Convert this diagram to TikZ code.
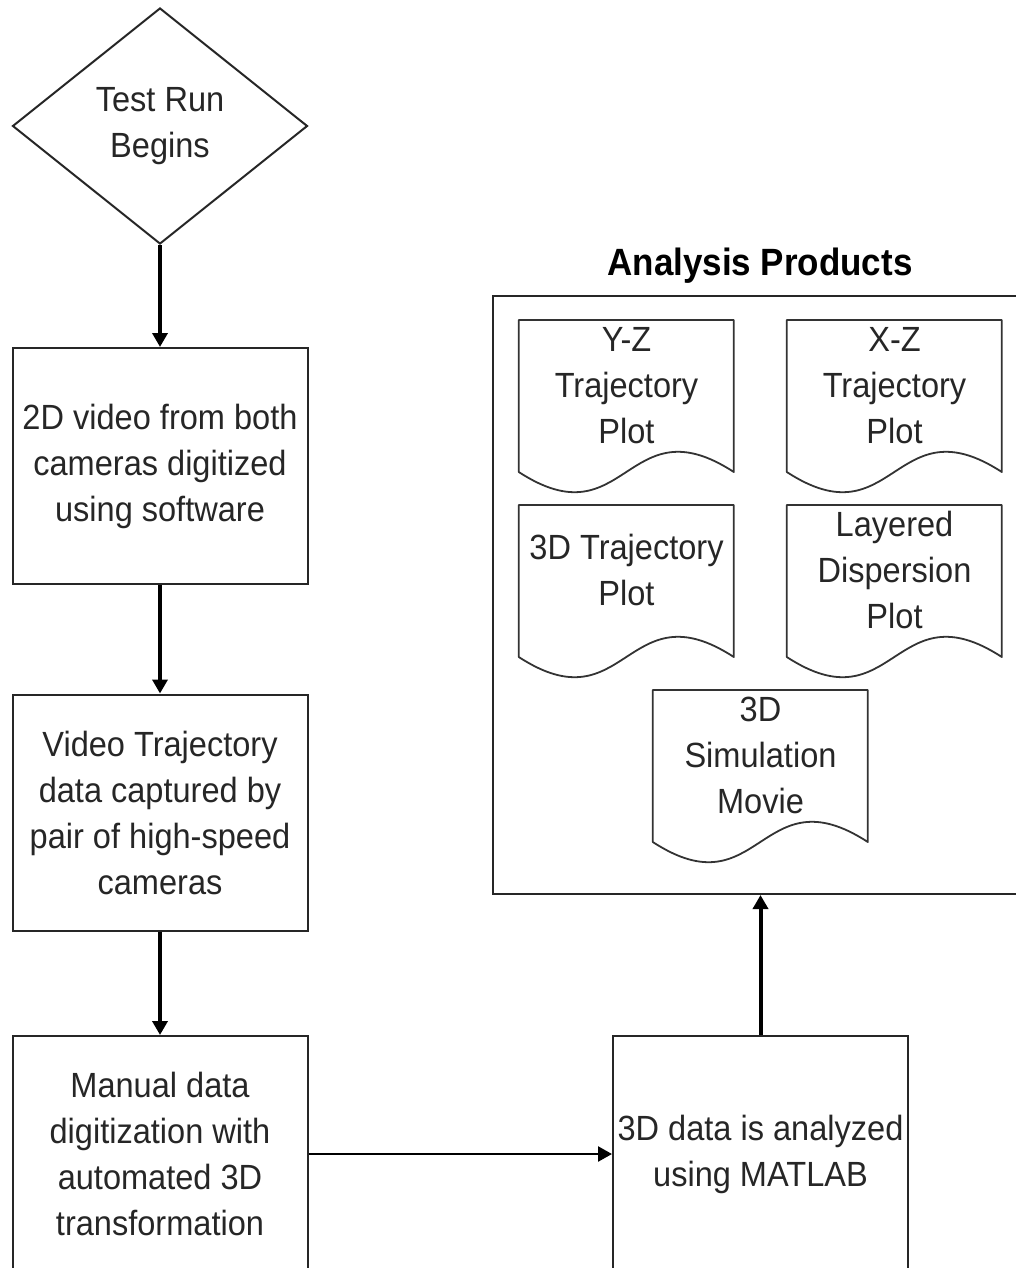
\documentclass[tikz,border=0pt]{standalone}
\usepackage{fontspec}
\setmainfont{Liberation Sans}[FakeStretch=0.93]
\newfontfamily\titlefont{Liberation Sans}[FakeStretch=0.92]
\usetikzlibrary{shapes.geometric,arrows.meta}
\begin{document}
\begin{tikzpicture}[x=1pt,y=-1pt,
  every node/.style={font=\fontsize{35}{46}\selectfont, text=black!85, align=center, inner sep=0pt},
  procbox/.style={draw=black!85, line width=2pt, minimum width=295pt, minimum height=236pt},
  startshape/.style={draw=black!85, line width=2pt, diamond, minimum width=295pt, minimum height=236pt},
  docnode/.style={minimum width=215pt, minimum height=130pt, anchor=north},
  docline/.style={draw=black!80, line width=1.8pt, line join=round},
  thickarrow/.style={line width=4pt, -{Triangle[length=14pt,width=15pt]}},
  thinarrow/.style={line width=2.5pt, -{Triangle[length=14pt,width=15pt]}}
]
\useasboundingbox (0,0) rectangle (1016,1268);
% left column
\node[startshape] (start) at (160,126) {Test Run\\Begins};
\node[procbox] (digit) at (160,466) {2D video from both\\cameras digitized\\using software};
\node[procbox] (video) at (160,812.5) {Video Trajectory\\data captured by\\pair of high-speed\\cameras};
\node[procbox] (manual) at (160,1154) {Manual data\\digitization with\\automated 3D\\transformation};
\node[procbox] (matlab) at (760.5,1154) {3D data is analyzed\\using MATLAB};
% analysis products
\node[draw=black!85, line width=2pt, minimum width=557pt, minimum height=598pt] (prod) at (771.5,595) {};
\node[font=\titlefont\bfseries\fontsize{38}{42}\selectfont, text=black] (title) at (760,266) {Analysis Products};
\node[docnode] (yz) at (626.5,320) {Y-Z\\Trajectory\\Plot};
\node[docnode] (xz) at (894.5,320) {X-Z\\Trajectory\\Plot};
\node[docnode] (traj) at (626.5,505) {3D Trajectory\\Plot};
\node[docnode] (layer) at (894.5,505) {Layered\\Dispersion\\Plot};
\node[docnode] (movie) at (760.5,690) {3D\\Simulation\\Movie};
\foreach \d in {yz,xz,traj,layer,movie}{
  \draw[docline, shift={(\d.north west)}] (0,0) -- (215,0) -- (215,152)
    .. controls (107.5,82) and (107.5,222) .. (0,152) -- cycle;
}
% connectors
\draw[thickarrow] (start.south) -- (digit.north);
\draw[thickarrow] (digit.south) -- (video.north);
\draw[thickarrow] (video.south) -- (manual.north);
\draw[thinarrow] (manual.east) -- (matlab.west);
\draw[thickarrow] (matlab.north) -- (matlab.north |- prod.south);
\end{tikzpicture}
\end{document}
